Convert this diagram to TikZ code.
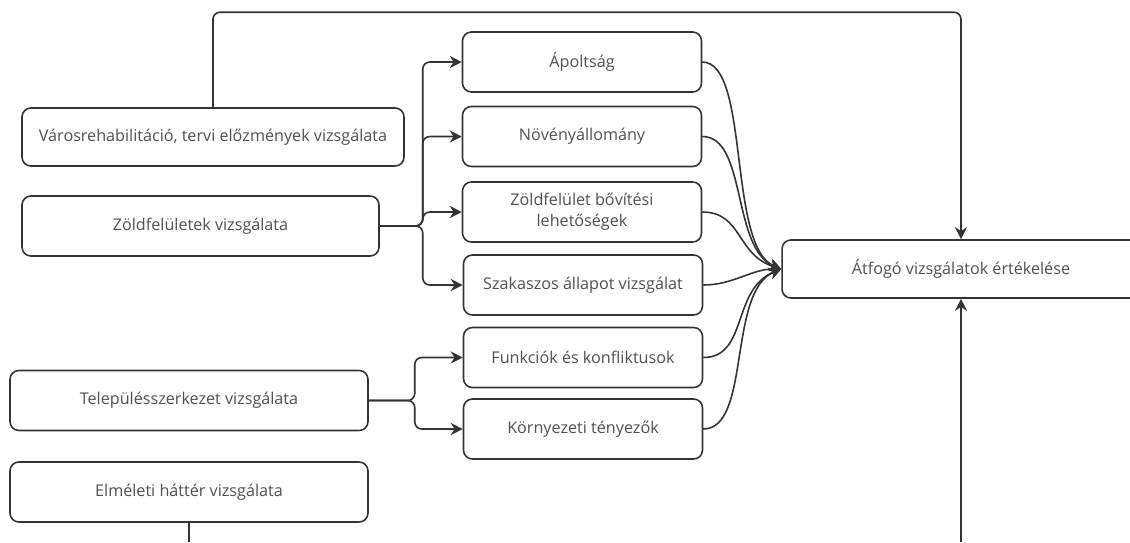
\documentclass[tikz,border=0pt]{standalone}
\usepackage{fontspec}
\setmainfont{Open Sans}
\usetikzlibrary{arrows.meta}

\definecolor{linegray}{HTML}{333333}
\definecolor{textgray}{HTML}{505050}

\begin{document}
\begin{tikzpicture}[
  x=0.02cm, y=-0.02cm,
  box/.style={draw=linegray,line width=0.9pt,rounded corners=5pt,minimum height=1.2cm,align=center,text=textgray,font=\fontsize{9.2}{11.8}\selectfont},
  midbox/.style={box,minimum width=4.78cm},
  wire/.style={draw=linegray,line width=0.9pt},
  arr/.style={wire,-{Stealth[length=2.4mm,width=2.4mm]}}
]
  \useasboundingbox (0,0) rectangle (1130,542);

  \node[box,minimum width=7.64cm,minimum height=1.16cm] (varos) at (213,137) {Városrehabilitáció, tervi előzmények vizsgálata};
  \node[box,minimum width=7.14cm] (zold) at (200.5,226) {Zöldfelületek vizsgálata};
  \node[box,minimum width=7.16cm] (telep) at (189,400.5) {Településszerkezet vizsgálata};
  \node[box,minimum width=7.16cm] (elmelet) at (189,492) {Elméleti háttér vizsgálata};

  \node[midbox] (apol) at (582,62) {Ápoltság};
  \node[midbox] (noveny) at (582,136.5) {Növényállomány};
  \node[midbox] (bovites) at (582,212) {Zöldfelület bővítési\\lehetőségek};
  \node[midbox] (szakasz) at (583,285) {Szakaszos állapot vizsgálat};
  \node[midbox] (funkcio) at (583,357.5) {Funkciók és konfliktusok};
  \node[midbox] (kornyezet) at (583,429) {Környezeti tényezők};

  \node[box,minimum width=7.16cm,minimum height=1.16cm] (eval) at (961,269) {Átfogó vizsgálatok értékelése};

  \coordinate (evalfoot) at (961,542);
  \coordinate (elmfoot) at (189,542);

  \foreach \target in {apol,noveny,bovites,szakasz}
    \draw[arr,rounded corners=4pt] (zold.east) -- ++(43,0) |- (\target.west);
  \foreach \target in {funkcio,kornyezet}
    \draw[arr,rounded corners=4pt] (telep.east) -- ++(46,0) |- (\target.west);

  % curves into the evaluation box
  \draw[arr] (apol.east) .. controls +(48,0) and +(-54,-22) .. (eval.west);
  \draw[arr] (noveny.east) .. controls +(45,0) and +(-50,-20) .. (eval.west);
  \draw[arr] (bovites.east) .. controls +(40,0) and +(-45,-14) .. (eval.west);
  \draw[arr] (szakasz.east) .. controls +(30,0) and +(-30,0) .. (eval.west);
  \draw[arr] (funkcio.east) .. controls +(45,0) and +(-50,20) .. (eval.west);
  \draw[arr] (kornyezet.east) .. controls +(48,0) and +(-54,22) .. (eval.west);

  \draw[arr,rounded corners=4pt] (varos.north) -- ++(0,-95) -| (eval.north);
  \draw[arr] (evalfoot) -- (eval.south);
  \draw[wire] (elmelet.south) -- (elmfoot);
\end{tikzpicture}
\end{document}
